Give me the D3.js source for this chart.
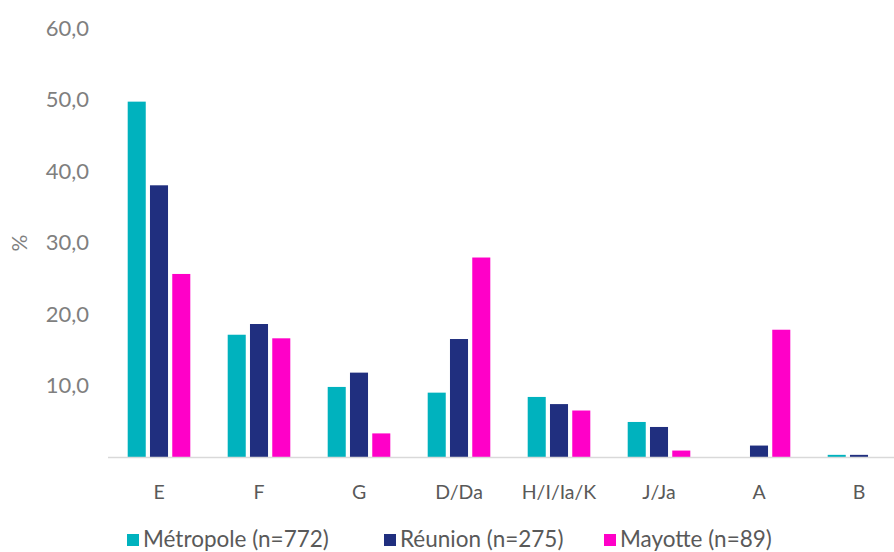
<!DOCTYPE html>
<html>
<head>
<meta charset="utf-8">
<script src="https://cdn.jsdelivr.net/npm/d3@7"></script>
<style>
  body { margin: 0; background: #fff; }
  text { font-family: Lato, "Open Sans", sans-serif; }
</style>
</head>
<body>
<svg id="chart" width="894" height="552"></svg>
<script>
// categories and series
var categories = ['E', 'F', 'G', 'D/Da', 'H/I/Ia/K', 'J/Ja', 'A', 'B'];
var seriesNames = ['Métropole (n=772)', 'Réunion (n=275)', 'Mayotte (n=89)'];
var metropole = [49.7, 17.1, 9.8, 9.0, 8.4, 4.9, 0, 0.3];
var reunion = [38.0, 18.6, 11.8, 16.5, 7.4, 4.2, 1.6, 0.3];
var mayotte = [25.6, 16.6, 3.3, 27.9, 6.5, 0.9, 17.8, 0];
var yTicks = [10, 20, 30, 40, 50, 60];
var colors = ['#00B2BE', '#202F7F', '#FF00C8'];

var svg = d3.select('#chart');
var allValues = [metropole, reunion, mayotte];

var x0 = d3.scaleBand().domain(categories).range([109, 909]);
var x1 = d3.scaleBand().domain(seriesNames).range([18.7, 81.3]).paddingInner(0.19);
var y = d3.scaleLinear().domain([0, 60]).range([457, 28]);

// y axis, labels only
var yAxis = d3.axisLeft(y)
    .tickValues(yTicks)
    .tickSize(0)
    .tickPadding(0)
    .tickFormat(function(d) { return d3.format('.1f')(d).replace('.', ','); });
var gy = svg.append('g').attr('transform', 'translate(89,0)').call(yAxis);
gy.select('.domain').remove();
gy.selectAll('text')
    .attr('fill', '#7f7f7f')
    .style('font-size', '22px')
    .style('font-family', 'Lato, sans-serif');

svg.append('text')
    .attr('transform', 'translate(27,243) rotate(-90)')
    .attr('text-anchor', 'middle')
    .attr('fill', '#7f7f7f')
    .style('font-size', '21px')
    .text('%');

// bars
var groups = svg.selectAll('.cat')
    .data(categories)
    .enter().append('g')
    .attr('class', 'cat')
    .attr('transform', function(d) { return 'translate(' + x0(d) + ',0)'; });

groups.selectAll('rect')
    .data(function(c, i) {
        return seriesNames.map(function(s, j) { return {s: s, j: j, v: allValues[j][i]}; });
    })
    .enter().append('rect')
    .filter(function(d) { return d.v > 0; })
    .attr('x', function(d) { return x1(d.s); })
    .attr('width', x1.bandwidth())
    .attr('y', function(d) { return y(d.v); })
    .attr('height', function(d) { return y(0) - y(d.v); })
    .attr('fill', function(d) { return colors[d.j]; });

// x axis
var xAxis = d3.axisBottom(x0).tickSize(0).tickPadding(0);
var gx = svg.append('g').attr('transform', 'translate(0,457)').call(xAxis);
gx.select('.domain').remove();
gx.selectAll('text')
    .attr('dy', null)
    .attr('y', 42)
    .attr('fill', '#595959')
    .style('font-size', '19.5px')
    .style('font-family', 'Lato, sans-serif');

svg.append('line')
    .attr('x1', 108).attr('x2', 894)
    .attr('y1', 457.5).attr('y2', 457.5)
    .attr('stroke', '#d9d9d9')
    .attr('stroke-width', 1.5);

// legend
var legendX = [127, 384, 604];
var legend = svg.selectAll('.leg')
    .data(seriesNames)
    .enter().append('g')
    .attr('class', 'leg')
    .attr('transform', function(d, i) { return 'translate(' + legendX[i] + ',534)'; });
legend.append('rect')
    .attr('width', 12).attr('height', 12)
    .attr('fill', function(d, i) { return colors[i]; });
legend.append('text')
    .attr('x', 16).attr('y', 12.5)
    .attr('fill', '#595959')
    .style('font-size', '22.5px')
    .text(function(d) { return d; });
</script>
</body>
</html>
